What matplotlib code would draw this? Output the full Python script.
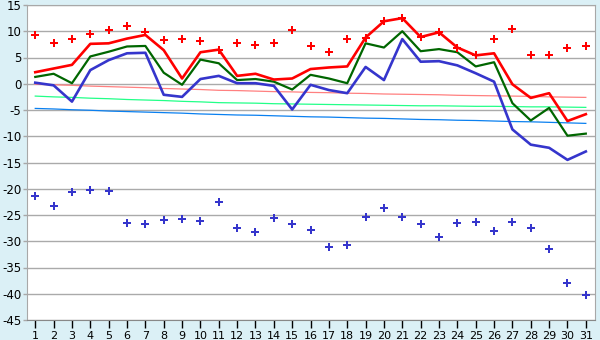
import matplotlib
matplotlib.use("Agg")
import matplotlib.pyplot as plt

days = list(range(1, 32))

max_pts = [9.3, 7.7, 8.5, 9.4, 10.2, 11.0, 9.8, 8.3, 8.5, 8.1, 6.5, 7.7, 7.3, 7.7, 10.2,
           7.1, 6.0, 8.6, 8.8, 11.9, 12.5, 8.9, 9.8, 6.9, 5.4, 8.6, 10.4, 5.5, 5.5, 6.8, 7.1]
min_pts = [-21.3, -23.2, -20.7, -20.3, -20.5, -26.5, -26.8, -26.0, -25.8, -26.1, -22.6,
           -27.4, -28.3, -25.6, -26.8, -27.9, -31.0, -30.8, -25.3, -23.7, -25.4, -26.8,
           -29.1, -26.6, -26.4, -28.1, -26.3, -27.4, -31.5, -38.0, -40.3]
tmax = [2.2, 2.9, 3.6, 7.6, 7.7, 8.6, 9.3, 6.4, 1.0, 6.0, 6.5, 1.5, 1.9, 0.8, 1.0,
        2.8, 3.1, 3.3, 8.8, 11.9, 12.5, 8.9, 9.8, 6.9, 5.4, 5.8, -0.1, -2.7, -1.8, -7.1, -5.8]
tmean = [1.3, 1.9, 0.1, 5.2, 6.1, 7.1, 7.2, 2.1, -0.2, 4.6, 3.9, 0.7, 0.9, 0.4, -1.1,
         1.7, 1.0, 0.1, 7.7, 6.9, 10.0, 6.2, 6.6, 6.0, 3.3, 4.1, -3.7, -7.0, -4.6, -9.9, -9.5]
tmin = [0.2, -0.3, -3.4, 2.6, 4.5, 5.8, 5.9, -2.1, -2.5, 0.9, 1.5, 0.1, 0.1, -0.4, -4.9,
        -0.2, -1.2, -1.8, 3.2, 0.7, 8.5, 4.2, 4.3, 3.5, 2.0, 0.4, -8.7, -11.6, -12.2, -14.5, -12.9]
norm_max = [-0.1, -0.2, -0.3, -0.45, -0.55, -0.65, -0.75, -0.9, -1.0, -1.1, -1.25, -1.3,
            -1.4, -1.5, -1.55, -1.65, -1.7, -1.8, -1.85, -1.95, -2.0, -2.05, -2.1, -2.2,
            -2.25, -2.3, -2.35, -2.4, -2.5, -2.55, -2.6]
norm_mean = [-2.35, -2.5, -2.6, -2.75, -2.85, -3.0, -3.1, -3.2, -3.35, -3.45, -3.6, -3.65,
             -3.7, -3.8, -3.85, -3.9, -3.95, -4.0, -4.05, -4.1, -4.15, -4.2, -4.2, -4.25,
             -4.3, -4.3, -4.35, -4.4, -4.4, -4.45, -4.5]
norm_min = [-4.7, -4.8, -4.95, -5.05, -5.2, -5.3, -5.4, -5.5, -5.6, -5.75, -5.85, -5.95,
            -6.0, -6.1, -6.2, -6.3, -6.35, -6.45, -6.55, -6.6, -6.7, -6.8, -6.85, -6.95,
            -7.0, -7.1, -7.2, -7.25, -7.35, -7.45, -7.55]
yticks = list(range(-45, 16, 5))

plt.rcParams['axes.unicode_minus'] = False
plt.rcParams['font.family'] = ['DejaVu Sans']

bg = '#DBF0F6'
fig = plt.figure(figsize=(6.0, 3.4), dpi=100, facecolor=bg)
ax = fig.add_axes([27/600, 20/340, 568/600, 315/340])
ax.set_facecolor('white')

ax.plot(days, norm_max, color='#FF8080', lw=0.9, zorder=2)
ax.plot(days, norm_mean, color='#22FF88', lw=0.9, zorder=2)
ax.plot(days, norm_min, color='#0A80F0', lw=0.9, zorder=2)

ax.plot(days, tmin, color='#3535CC', lw=1.9, zorder=3)
ax.plot(days, tmean, color='#006600', lw=1.6, zorder=3)
ax.plot(days, tmax, color='#FF0000', lw=1.9, zorder=4)

ax.plot(days, max_pts, linestyle='none', marker='P', markersize=5.5,
        color='#FF0000', markeredgewidth=0, zorder=5)
ax.plot(days, min_pts, linestyle='none', marker='P', markersize=5.5,
        color='#3535CC', markeredgewidth=0, zorder=5)

ax.set_xlim(0.55, 31.5)
ax.set_ylim(-45, 15)
ax.set_xticks(days)
ax.set_xticklabels([str(d) for d in days])
ax.set_yticks(yticks)
ax.set_yticklabels([str(v) for v in yticks])
ax.yaxis.grid(True, color='#AAAAAA', lw=1.0)
ax.set_axisbelow(True)

for s in ['left', 'right', 'top']:
    ax.spines[s].set_color('#A8A8A8')
ax.spines['bottom'].set_color('#888888')
ax.tick_params(axis='x', direction='out', length=6, width=1, color='black',
               labelsize=8, pad=2)
ax.tick_params(axis='y', direction='out', length=3, width=1, color='#A8A8A8',
               labelsize=8.5, pad=1)

fig.savefig('out.png', dpi=100, facecolor=bg)
